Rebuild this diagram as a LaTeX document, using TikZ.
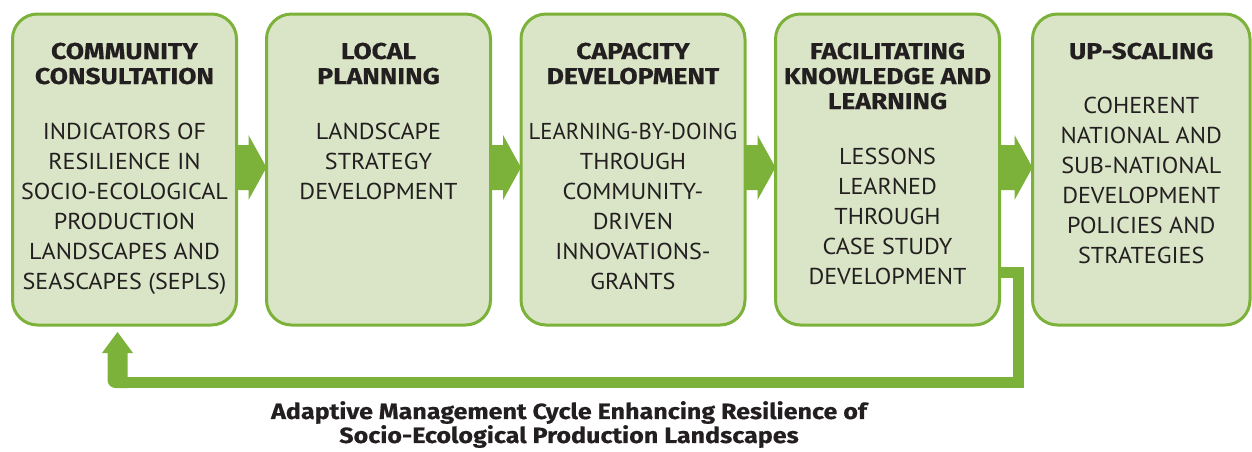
\documentclass[tikz,border=0pt]{standalone}
\usepackage{fontspec}
\setmainfont{PT Sans}[FakeStretch=1.05]
\newfontfamily\headfont{Fira Sans}[BoldFeatures={FakeStretch=1.15,FakeBold=0.4}]
\newfontfamily\capfont{Fira Sans}[BoldFeatures={FakeStretch=1.14,FakeBold=0.5}]
\usetikzlibrary{calc}
\definecolor{boxfill}{RGB}{217,229,198}
\definecolor{leaf}{RGB}{124,178,58}
\definecolor{ink}{RGB}{35,31,32}
\begin{document}
\begin{tikzpicture}[x=1pt,y=-1pt,
  box/.style={line width=3pt, rounded corners=25pt,
    minimum width=224pt, minimum height=311pt, inner sep=0pt, outer sep=0pt},
  head/.style={anchor=north, inner sep=0pt, align=center, text=ink,
    font=\headfont\bfseries\fontsize{23}{25}\selectfont},
  body/.style={anchor=north, inner sep=0pt, align=center, text=ink,
    font=\fontsize{23}{30}\selectfont},
  caption/.style={inner sep=0pt, align=center, text=ink,
    font=\capfont\bfseries\fontsize{22}{24}\selectfont},
  flowfill/.style={fill=leaf},
]
\useasboundingbox (0,0) rectangle (1252,451);

% box frames (positions only)
\path (124.5,169.5) node[box] (b1) {}
      (378.5,169.5) node[box] (b2) {}
      (633,169.5)   node[box] (b3) {}
      (887.5,169.5) node[box] (b4) {}
      (1141.25,169.5) node[box, minimum width=217.5pt] (b5) {};

% flow arrows between boxes
\foreach \a/\b in {b1/b2,b2/b3,b3/b4,b4/b5}{
  \fill[flowfill] ($(\a.east)+(0,-24.5)$) -- ($(\b.west)+(-18,-24.5)$)
    -- ($(\b.west)+(-18,-34.5)$) -- ($(\b.west)+(0,-2)$)
    -- ($(\b.west)+(-18,30.5)$) -- ($(\b.west)+(-18,20.5)$)
    -- ($(\a.east)+(0,20.5)$) -- cycle;
}

% feedback connector
\coordinate (fbstart) at ($(b4.east)+(0,103)$);
\coordinate (fbcorner) at ($(b4.east)+(18.5,213)$);
\coordinate (fbtip) at ($(b1.south)+(-7,7)$);
\draw[leaf, line width=11pt] (fbstart) -| (fbcorner) -- (fbcorner -| fbtip);
\fill[leaf] ($(fbtip)+(10,21)$) -- ($(fbtip)+(-10,21)$) -- ($(fbtip)+(-10,48)$)
   arc[start angle=180, end angle=90, radius=8] -- ($(fbtip)+(10,56)$) -- cycle;
\fill[leaf] ($(fbtip)+(-15.5,21)$) -- ($(fbtip)+(15.5,21)$) -- (fbtip) -- cycle;

% boxes drawn
\foreach \n in {b1,b2,b3,b4,b5}{
  \draw[draw=leaf, fill=boxfill, line width=3pt, rounded corners=25pt]
    (\n.north west) rectangle (\n.south east);
}

% headings
\node[head] (h1) at (124.5,42.5) {COMMUNITY\\CONSULTATION};
\node[head] (h2) at (378.5,42.5) {LOCAL\\PLANNING};
\node[head] (h3) at (633,42.5) {CAPACITY\\DEVELOPMENT};
\node[head] (h4) at (887.5,42.5) {FACILITATING\\KNOWLEDGE AND\\LEARNING};
\node[head] (h5) at (1141.25,42.5) {UP-SCALING};

% bodies
\node[body] (t1) at (124.5,123) {INDICATORS OF\\RESILIENCE IN\\SOCIO-ECOLOGICAL\\PRODUCTION\\LANDSCAPES AND\\SEASCAPES (SEPLS)};
\node[body] (t2) at (378.5,123) {LANDSCAPE\\STRATEGY\\DEVELOPMENT};
\node[body] (t3) at (633,123) {\scalebox{0.94}[1]{LEARNING-BY-DOING}\\THROUGH\\COMMUNITY-\\DRIVEN\\INNOVATIONS-\\GRANTS};
\node[body] (t4) at (887.5,148) {LESSONS\\LEARNED\\THROUGH\\CASE STUDY\\DEVELOPMENT};
\node[body] (t5) at (1141.25,97) {COHERENT\\NATIONAL AND\\SUB-NATIONAL\\DEVELOPMENT\\POLICIES AND\\STRATEGIES};

% caption
\node[caption] (cap) at (569,424.5) {Adaptive Management Cycle Enhancing Resilience of\\Socio-Ecological Production Landscapes};
\end{tikzpicture}
\end{document}
